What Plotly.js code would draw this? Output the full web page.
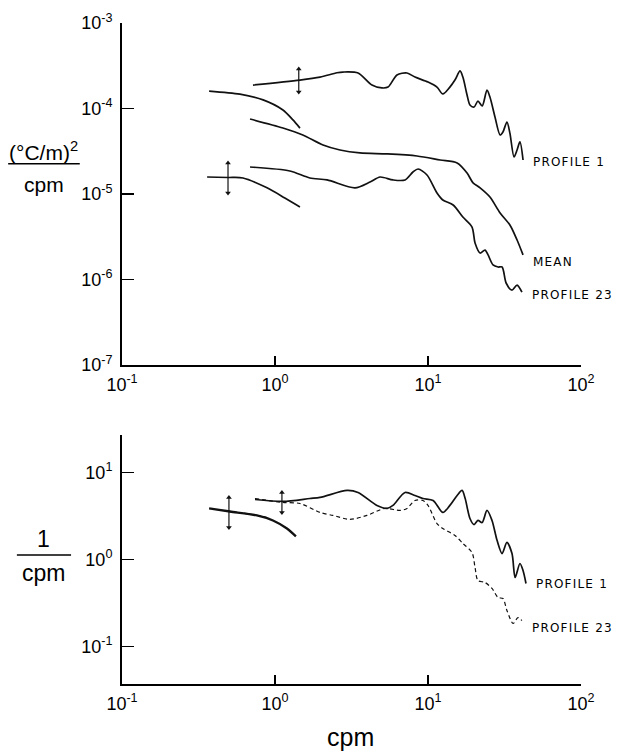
<!DOCTYPE html>
<html><head><meta charset="utf-8">
<script src="https://cdn.plot.ly/plotly-3.0.1.min.js"></script>
<style>html,body{margin:0;padding:0;background:#fff}#chart{width:619px;height:753px}</style>
</head><body><div id="chart"></div><script>
// ---- Top panel: temperature-gradient spectra ((°C/m)^2/cpm) ----
const p1LowX = [0.371, 0.59, 0.836, 1.127, 1.31, 1.456];
const p1LowY = [1.60e-4, 1.47e-4, 1.26e-4, 9.6e-5, 7.35e-5, 5.9e-5];
const p1X = [0.718, 1.456, 1.97, 2.54, 2.78, 3.49, 4.30, 5.00, 5.48, 6.27, 7.29, 8.22, 10.0, 11.45, 12.5, 13.9, 15.0, 16.2, 16.9, 18.0, 18.8, 20.0, 21.2, 22.6, 24.3, 25.4, 27.4, 29.6, 30.9, 32.8, 34.3, 36.5, 38.2, 39.9, 41.8];
const p1Y = [1.88e-4, 2.15e-4, 2.33e-4, 2.62e-4, 2.67e-4, 2.60e-4, 1.88e-4, 1.74e-4, 1.78e-4, 2.47e-4, 2.60e-4, 2.33e-4, 2.04e-4, 1.78e-4, 1.48e-4, 1.78e-4, 2.15e-4, 2.75e-4, 2.33e-4, 1.44e-4, 1.10e-4, 1.04e-4, 1.22e-4, 1.07e-4, 1.64e-4, 1.36e-4, 7.96e-5, 4.90e-5, 5.31e-5, 6.95e-5, 5.16e-5, 2.71e-5, 3.27e-5, 4.06e-5, 2.50e-5];
const meanX = [0.687, 1.127, 1.52, 2.06, 2.66, 3.59, 5.40, 8.47, 12.0, 15.5, 18.0, 19.7, 21.9, 25.4, 29.6, 34.3, 38.2, 41.8];
const meanY = [7.53e-5, 5.91e-5, 4.90e-5, 3.74e-5, 3.27e-5, 3.02e-5, 2.94e-5, 2.78e-5, 2.50e-5, 2.31e-5, 1.76e-5, 1.35e-5, 1.18e-5, 9.22e-6, 6.0e-6, 4.34e-6, 2.90e-6, 1.94e-6];
const p23LowX = [0.360, 0.493, 0.618, 0.887, 1.16, 1.456];
const p23LowY = [1.58e-5, 1.56e-5, 1.54e-5, 1.18e-5, 8.98e-6, 7.05e-6];
const p23X = [0.687, 1.25, 1.69, 2.19, 3.33, 4.18, 4.86, 5.90, 7.08, 7.98, 8.61, 9.85, 11.45, 12.5, 14.6, 16.9, 19.4, 20.3, 21.9, 23.6, 26.6, 28.7, 30.5, 32.4, 35.4, 38.2, 41.1];
const p23Y = [2.07e-5, 1.86e-5, 1.54e-5, 1.46e-5, 1.18e-5, 1.38e-5, 1.58e-5, 1.46e-5, 1.46e-5, 1.81e-5, 1.96e-5, 1.67e-5, 1.03e-5, 8.51e-6, 7.43e-6, 5.38e-6, 4.11e-6, 2.67e-6, 2.04e-6, 2.21e-6, 1.48e-6, 1.40e-6, 1.40e-6, 9.1e-7, 7.5e-7, 8.6e-7, 7.1e-7];
// confidence bars (top)
const ebTopAX = [0.493, 0.493], ebTopAY = [2.31e-5, 1.03e-5];
const ebTopBX = [1.43, 1.43],   ebTopBY = [2.90e-4, 1.56e-4];

// ---- Bottom panel: normalized spectra (1/cpm) ----
const b1LowX = [0.371, 0.508, 0.762, 0.970, 1.197, 1.37];
const b1LowY = [3.86, 3.56, 3.21, 2.81, 2.27, 1.84];
const b23LowX = [0.50, 0.565, 0.70, 0.885];
const b23LowY = [3.55, 3.47, 3.30, 3.04];
const b1X = [0.740, 1.127, 1.69, 1.97, 2.96, 3.49, 4.64, 5.40, 5.90, 7.08, 8.22, 9.27, 10.8, 12.5, 13.9, 15.5, 16.7, 17.5, 18.8, 20.0, 21.2, 22.6, 24.3, 26.2, 28.3, 30.5, 32.8, 35.4, 37.1, 39.9, 41.8, 43.7];
const b1Y = [4.89, 4.65, 5.02, 5.17, 6.21, 5.89, 4.18, 3.86, 4.18, 5.89, 5.44, 5.02, 4.77, 3.47, 4.18, 5.44, 6.21, 5.02, 2.96, 2.52, 2.81, 2.66, 3.66, 2.81, 1.65, 1.17, 1.57, 1.17, 0.621, 0.90, 0.748, 0.53];
const b23X = [0.740, 1.127, 1.456, 1.97, 2.39, 3.09, 3.99, 5.23, 6.56, 7.29, 8.22, 9.27, 10.0, 11.45, 12.5, 15.0, 16.9, 19.4, 20.3, 21.2, 23.6, 26.2, 28.7, 30.9, 32.8, 36.0, 38.7, 41.1];
const b23Y = [5.02, 4.52, 4.40, 3.47, 3.21, 2.89, 3.21, 3.86, 3.66, 3.86, 4.77, 4.77, 4.18, 2.59, 2.27, 1.89, 1.53, 1.20, 0.81, 0.574, 0.544, 0.465, 0.366, 0.356, 0.26, 0.184, 0.215, 0.199];
const ebBotAX = [0.50, 0.50], ebBotAY = [5.17, 2.33];
const ebBotBX = [1.11, 1.11], ebBotBY = [5.89, 3.47];

// ---- tick labels ----
const xTickVals = [0.1, 1, 10, 100];
const xTickText = ['10<sup>-1</sup>', '10<sup>0</sup>', '10<sup>1</sup>', '10<sup>2</sup>'];
const yTopTickVals = [1e-7, 1e-6, 1e-5, 1e-4, 1e-3];
const yTopTickText = ['10<sup>-7</sup>', '10<sup>-6</sup>', '10<sup>-5</sup>', '10<sup>-4</sup>', '10<sup>-3</sup>'];
const yBotTickVals = [0.1, 1, 10];
const yBotTickText = ['10<sup>-1</sup>', '10<sup>0</sup>', '10<sup>1</sup>'];

const FONT = 'Liberation Sans, Arial, sans-serif';
const last = a => a[a.length - 1];

function curve(x, y, xa, ya, dash, w) {
  return {x: x, y: y, xaxis: xa, yaxis: ya, mode: 'lines', type: 'scatter',
    line: {color: '#111', width: w || 1.7, shape: 'spline', smoothing: 0.8, dash: dash || 'solid'},
    hoverinfo: 'skip', showlegend: false};
}
function ebar(x, y, xa, ya) {
  return {x: x, y: y, xaxis: xa, yaxis: ya, mode: 'lines+markers', type: 'scatter',
    line: {color: '#111', width: 1.2},
    marker: {symbol: ['triangle-up', 'triangle-down'], size: 5, color: '#111'},
    hoverinfo: 'skip', showlegend: false};
}

const traces = [
  curve(p1LowX, p1LowY, 'x', 'y'),
  curve(p1X, p1Y, 'x', 'y'),
  curve(meanX, meanY, 'x', 'y'),
  curve(p23LowX, p23LowY, 'x', 'y'),
  curve(p23X, p23Y, 'x', 'y'),
  ebar(ebTopAX, ebTopAY, 'x', 'y'),
  ebar(ebTopBX, ebTopBY, 'x', 'y'),
  curve(b1LowX, b1LowY, 'x2', 'y2', 'solid', 2.3),
  curve(b23LowX, b23LowY, 'x2', 'y2', '3px,2px', 1.2),
  curve(b23X, b23Y, 'x2', 'y2', '4px,3px', 1.2),
  curve(b1X, b1Y, 'x2', 'y2'),
  ebar(ebBotAX, ebBotAY, 'x2', 'y2'),
  ebar(ebBotBX, ebBotBY, 'x2', 'y2')
];

const axBase = {type: 'log', showline: true, linecolor: '#000', linewidth: 2, ticks: 'inside',
  tickcolor: '#000', tickwidth: 1.5, showgrid: false, zeroline: false,
  tickfont: {family: FONT, size: 18, color: '#000'}};

const lblFont = {family: 'DejaVu Sans, sans-serif', size: 12, color: '#000'};
function lbl(text, x, y, xa, ya, ys) {
  return {text: '<span style="letter-spacing:1.2px">' + text + '</span>', xref: xa, yref: ya,
    x: Math.log10(x), y: Math.log10(y),
    xanchor: 'left', yanchor: 'middle', xshift: 8, yshift: ys, showarrow: false, font: lblFont};
}

const layout = {
  width: 619, height: 753,
  margin: {l: 122, r: 38, t: 23, b: 69},
  paper_bgcolor: '#fff', plot_bgcolor: 'rgba(0,0,0,0)',
  showlegend: false,
  xaxis: Object.assign({}, axBase, {range: [-1, 2], anchor: 'y', domain: [0, 1], ticklen: 9,
    tickvals: xTickVals, ticktext: xTickText, ticklabelstandoff: 2}),
  yaxis: Object.assign({}, axBase, {range: [-7, -3], anchor: 'x', domain: [0.4826, 1], ticklen: 12,
    tickvals: yTopTickVals, ticktext: yTopTickText, ticklabelstandoff: 4}),
  xaxis2: Object.assign({}, axBase, {range: [-1, 2], anchor: 'y2', domain: [0, 1], ticklen: 9,
    tickvals: xTickVals, ticktext: xTickText, ticklabelstandoff: 2}),
  yaxis2: Object.assign({}, axBase, {range: [-1.43, 1.43], anchor: 'x2', domain: [0, 0.3767], ticklen: 12,
    tickvals: yBotTickVals, ticktext: yBotTickText, ticklabelstandoff: 4}),
  annotations: [
    lbl('PROFILE 1', last(p1X), last(p1Y), 'x', 'y', -2),
    lbl('MEAN', last(meanX), last(meanY), 'x', 'y', -7),
    lbl('PROFILE 23', last(p23X), last(p23Y), 'x', 'y', -3),
    lbl('PROFILE 1', last(b1X), last(b1Y), 'x2', 'y2', 0),
    lbl('PROFILE 23', last(b23X), last(b23Y), 'x2', 'y2', -7),
    {text: '(°C/m)<sup>2</sup>', xref: 'paper', yref: 'paper', x: -0.170, y: 0.806,
      xanchor: 'center', yanchor: 'middle', showarrow: false, font: {family: FONT, size: 21, color: '#000'}},
    {text: 'cpm', xref: 'paper', yref: 'paper', x: -0.170, y: 0.756,
      xanchor: 'center', yanchor: 'middle', showarrow: false, font: {family: FONT, size: 21, color: '#000'}},
    {text: '1', xref: 'paper', yref: 'paper', x: -0.170, y: 0.220,
      xanchor: 'center', yanchor: 'middle', showarrow: false, font: {family: FONT, size: 23, color: '#000'}},
    {text: 'cpm', xref: 'paper', yref: 'paper', x: -0.170, y: 0.168,
      xanchor: 'center', yanchor: 'middle', showarrow: false, font: {family: FONT, size: 23, color: '#000'}},
    {text: 'cpm', xref: 'paper', yref: 'paper', x: 0.497, y: -0.080,
      xanchor: 'center', yanchor: 'middle', showarrow: false, font: {family: FONT, size: 25, color: '#000'}}
  ],
  shapes: [
    {type: 'line', xref: 'paper', yref: 'paper', x0: -0.248, x1: -0.092, y0: 0.787, y1: 0.787,
      line: {color: '#000', width: 1.5}},
    {type: 'line', xref: 'paper', yref: 'paper', x0: -0.229, x1: -0.111, y0: 0.195, y1: 0.195,
      line: {color: '#000', width: 1.5}}
  ]
};

Plotly.newPlot('chart', traces, layout, {displayModeBar: false, staticPlot: true});
</script></body></html>
